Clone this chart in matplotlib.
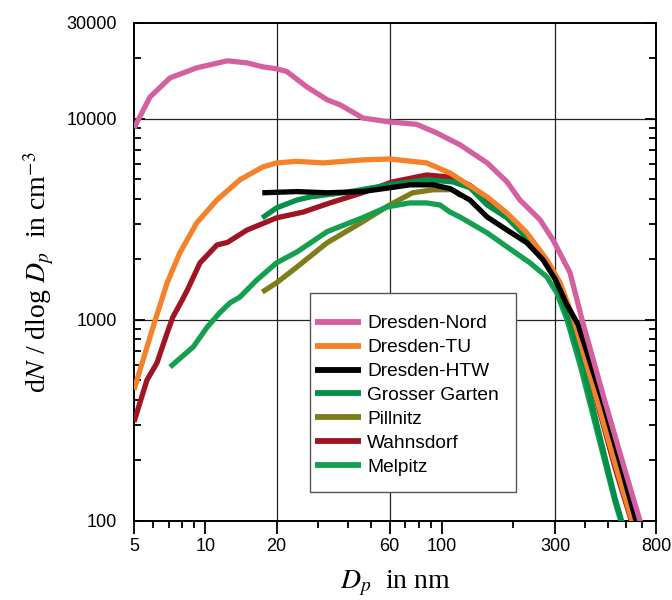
import matplotlib.pyplot as plt
from matplotlib.lines import Line2D
from matplotlib.patches import Rectangle
from matplotlib.ticker import FixedLocator, NullFormatter

plt.rcParams["font.family"] = ["Liberation Sans", "DejaVu Sans"]
plt.rcParams["mathtext.fontset"] = "stix"

# particle size distributions, D_p in nm vs dN/dlogD_p in cm^-3
NORD_D = [5, 5.84, 7.1, 9.2, 12.4, 15, 17.5, 20, 22.1, 26.9, 32.7, 37.1, 46.3, 60,
          78, 95, 119, 155, 188, 213, 259, 294, 347, 390, 485, 586, 685, 720]
NORD_N = [9000, 12850, 16000, 17950, 19450, 19000, 18150, 17750, 17200, 14400, 12450,
          11750, 10100, 9660, 9400, 8510, 7430, 6040, 4860, 3950, 3150, 2500, 1715,
          1000, 400, 186, 100, 85]

TU_D = [5, 5.3, 6.15, 6.9, 7.8, 9.2, 11.2, 14, 17.5, 20, 24.4, 31.4, 46, 60, 86, 108,
        155, 188, 228, 277, 315, 360, 451, 542, 634, 670]
TU_N = [449, 564, 1000, 1528, 2150, 3040, 3950, 4980, 5770, 6040, 6150, 6040, 6250,
        6320, 6040, 5380, 4090, 3400, 2710, 1990, 1530, 1000, 400, 186, 100, 85]

HTW_D = [17.4, 24.4, 32.7, 46, 60, 73, 91.6, 108, 131, 155, 188, 228, 267, 300, 335,
         375, 474, 570, 659, 690]
HTW_N = [4290, 4350, 4290, 4350, 4540, 4700, 4700, 4500, 3950, 3250, 2800, 2420, 1990,
         1600, 1200, 950, 400, 186, 100, 85]

GG_D = [17.4, 20, 24.4, 27.7, 32.7, 38.2, 60, 86, 111, 131, 155, 188, 228, 277, 300,
        330, 390, 451, 537, 580]
GG_N = [3220, 3610, 3950, 4090, 4200, 4290, 4700, 4980, 4860, 4550, 3730, 3220, 2560,
        1880, 1600, 1150, 620, 300, 130, 95]

PILL_D = [17.4, 20, 24.4, 32.7, 46, 60, 75, 91.6, 110, 120]
PILL_N = [1377, 1530, 1836, 2420, 3070, 3730, 4290, 4440, 4450, 4150]

WAHN_D = [5, 5.67, 6.25, 6.9, 7.3, 8.0, 8.4, 9.5, 11.2, 12.4, 15, 20, 25.9, 33.6, 46,
          61.7, 86, 105, 130, 155, 188, 228, 277, 315, 360, 451, 540, 630, 660]
WAHN_N = [311, 502, 611, 861, 1035, 1260, 1409, 1923, 2360, 2430, 2800, 3220, 3440,
          3820, 4290, 4860, 5260, 5150, 4700, 4000, 3350, 2650, 1950, 1500, 980, 390,
          180, 100, 85]

MELP_D = [7.1, 8.9, 10.2, 11.5, 12.7, 14, 16.5, 20, 24.4, 32.7, 46, 58.6, 73, 86, 98,
          108, 119, 155, 188, 235, 277, 305, 337, 382, 451, 537, 580]
MELP_N = [583, 735, 923, 1085, 1215, 1300, 1580, 1923, 2180, 2750, 3220, 3650, 3820,
          3820, 3730, 3440, 3250, 2710, 2310, 1923, 1635, 1362, 1000, 600, 280, 125, 92]

SITES = ["Dresden-Nord", "Dresden-TU", "Dresden-HTW", "Grosser Garten", "Pillnitz",
         "Wahnsdorf", "Melpitz"]

X_TICKS = [5, 10, 20, 60, 100, 300, 800]
X_MINOR = [6, 7, 8, 9, 30, 40, 50, 70, 80, 90, 200, 400, 500, 600, 700]
Y_TICKS = [100, 1000, 10000, 30000]
Y_MINOR = [200, 300, 400, 500, 600, 700, 800, 900,
           2000, 3000, 4000, 5000, 6000, 7000, 8000, 9000, 20000]
GRID_X = [20, 60, 300]
GRID_Y = [1000, 10000]

SERIES = [
    # (label, D, N, colour, zorder)
    ("Dresden-Nord", NORD_D, NORD_N, "#d4609f", 3.6),
    ("Dresden-TU", TU_D, TU_N, "#f4822a", 3.4),
    ("Dresden-HTW", HTW_D, HTW_N, "#000000", 3.5),
    ("Grosser Garten", GG_D, GG_N, "#00904a", 3.3),
    ("Pillnitz", PILL_D, PILL_N, "#7d7d1c", 3.0),
    ("Wahnsdorf", WAHN_D, WAHN_N, "#a01523", 3.1),
    ("Melpitz", MELP_D, MELP_N, "#14a04f", 3.2),
]
LW = 3.8

fig = plt.figure(figsize=(6.72, 6.0), dpi=100)
ax = fig.add_axes([0.1994, 0.1317, 0.7768, 0.83])

for v in GRID_X:
    ax.axvline(v, color="#222222", lw=0.9, zorder=1)
for v in GRID_Y:
    ax.axhline(v, color="#222222", lw=0.9, zorder=1)

handles = []
for label, d, n, color, z in SERIES:
    ax.plot(d, n, color=color, lw=LW, solid_joinstyle="round",
            solid_capstyle="butt", zorder=z)
    handles.append(Line2D([], [], color=color, lw=LW + 0.4, solid_capstyle="butt"))

ax.set_xscale("log")
ax.set_yscale("log")
ax.set_xlim(5, 800)
ax.set_ylim(100, 30000)

ax.xaxis.set_major_locator(FixedLocator(X_TICKS))
ax.xaxis.set_minor_locator(FixedLocator(X_MINOR))
ax.xaxis.set_minor_formatter(NullFormatter())
ax.set_xticklabels([str(t) for t in X_TICKS])
ax.yaxis.set_major_locator(FixedLocator(Y_TICKS))
ax.yaxis.set_minor_locator(FixedLocator(Y_MINOR))
ax.yaxis.set_minor_formatter(NullFormatter())
ax.set_yticklabels([str(t) for t in Y_TICKS])

ax.tick_params(axis="x", which="both", direction="out", top=False,
               labelsize=13, pad=3, width=1.3)
ax.tick_params(axis="x", which="major", length=9)
ax.tick_params(axis="x", which="minor", length=5)
ax.tick_params(axis="y", which="both", direction="in", left=True, right=True,
               labelsize=13, pad=12, width=1.3)
ax.tick_params(axis="y", which="major", length=8)
ax.tick_params(axis="y", which="minor", length=5)
for sp in ax.spines.values():
    sp.set_linewidth(1.4)

serif = {"family": ["Liberation Serif", "DejaVu Serif"], "size": 20}
ax.set_ylabel(r"d$N$ / dlog $D_p$  in cm$^{-3}$", fontdict=serif, labelpad=8)
ax.set_xlabel(r"$D_p$  in nm", fontdict=serif, labelpad=10)

box = Rectangle((0.337, 0.058), 0.395, 0.40, transform=ax.transAxes,
                facecolor="white", edgecolor="#555555", lw=1.0, zorder=5)
ax.add_patch(box)
leg = ax.legend(handles, SITES, loc="center left", bbox_to_anchor=(0.333, 0.252),
                frameon=False, fontsize=13.8, handlelength=2.4, handletextpad=0.3,
                labelspacing=0.34, borderaxespad=0, borderpad=0.4)
leg.set_zorder(6)

fig.savefig("out.png", dpi=100, facecolor="white")
